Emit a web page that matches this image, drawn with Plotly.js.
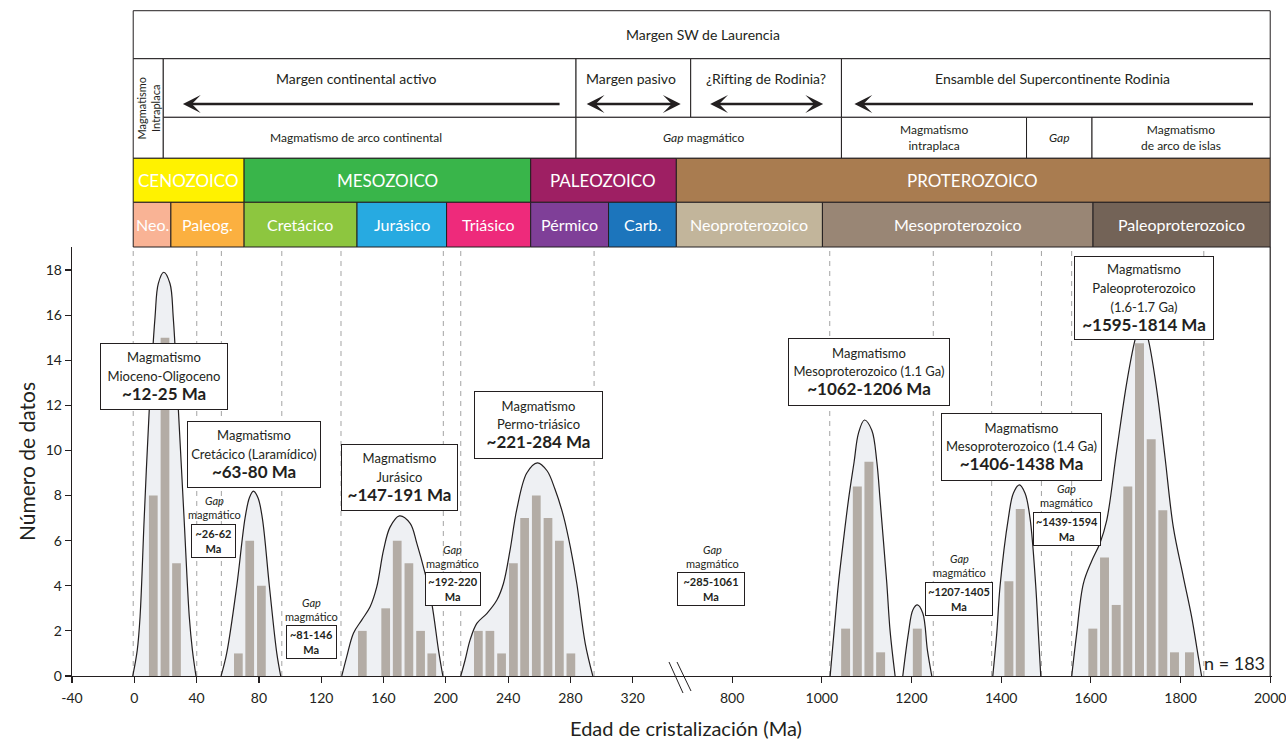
<!DOCTYPE html>
<html>
<head>
<meta charset="utf-8">
<script src="https://cdn.plot.ly/plotly-3.0.1.min.js"></script>
<style>html,body{margin:0;padding:0;background:#fff}#chart{width:1286px;height:740px}</style>
</head>
<body>
<div id="chart"></div>
<script>
// ---------------- DATA ----------------
// Histogram bins, left (broken) segment: age (Ma) and count
const leftBinAge   = [12.2, 19.7, 27.1, 66.8, 74.1, 81.6, 146.4, 161.4, 168.8, 176.3, 183.8, 191.0, 220.9, 228.3, 235.8, 243.4, 250.6, 258.1, 265.6, 272.9, 280.3];
const leftBinCount = [8, 15, 5, 1, 6, 4, 2, 3, 6, 5, 2, 1, 2, 2, 1, 5, 7, 8, 7, 6, 1];
// Histogram bins, right segment
const rightBinAge   = [1053.1, 1079.2, 1105.1, 1131.2, 1213, 1417.2, 1442.6, 1604.4, 1630.5, 1656.6, 1682.4, 1708.5, 1734.6, 1760.5, 1786.5, 1820];
const rightBinCount = [2.1, 8.4, 9.5, 1.05, 2.1, 4.2, 7.4, 2.1, 5.25, 3.15, 8.4, 14.75, 10.5, 7.35, 1.05, 1.05];

// Probability-density envelopes
const kdeMioX = [-1, 1.9, 3.7, 6.4, 9.6, 13.3, 15.4, 18.9, 22.9, 25, 28.3, 31.9, 35.3, 37.3, 39.6];
const kdeMioY = [0, 1.15, 2.63, 7.06, 11.8, 15.9, 17.4, 17.9, 17.4, 15.9, 11.8, 7.06, 2.63, 1.15, 0];
const kdeCreX = [55.7, 59.3, 65.8, 71.1, 73.9, 76.4, 79.4, 82.2, 86.7, 91.5, 94.0];
const kdeCreY = [0, 1, 4, 7, 7.9, 8.2, 7.9, 7, 4, 1, 0];
const kdeJurX = [133.2, 136.4, 140.7, 146, 151.4, 155.7, 160, 164.2, 170.2, 177.1, 181.4, 186.7, 191, 195.3, 198.1];
const kdeJurY = [0, 0.86, 1.9, 2.48, 3.07, 3.96, 5.58, 6.6, 7.1, 6.77, 5.88, 4.55, 3.22, 1.15, 0];
const kdePTrX = [209.6, 212.4, 215.6, 219.9, 226.3, 232.8, 237, 241.3, 245.6, 252, 258.8, 265, 270, 275.5, 280, 284.1, 289.5, 294.4];
const kdePTrY = [0, 0.71, 1.6, 2.33, 2.77, 3.37, 4.1, 5.6, 7.4, 9.0, 9.45, 9.1, 8.3, 7.1, 5.7, 4.1, 1.45, 0];
const kde11X = [1018.6, 1027.5, 1037.1, 1048.2, 1059.4, 1072.1, 1081.7, 1095.1, 1111.5, 1122.7, 1130, 1137.4, 1145, 1152.3, 1163.5];
const kde11Y = [0, 2.0, 4.1, 6.0, 7.8, 9.5, 10.76, 11.35, 10.9, 9.5, 7.8, 6.0, 4.1, 2.0, 0];
const kde12X = [1180.6, 1193.2, 1203, 1213.2, 1225.3, 1235.5, 1245.3];
const kde12Y = [0, 1.9, 2.93, 3.15, 2.78, 1.15, 0];
const kde14X = [1381.3, 1390.2, 1397.6, 1416.1, 1427.2, 1440.6, 1453.3, 1464.4, 1477.1, 1483, 1488.3];
const kde14Y = [0, 1.9, 4.0, 7.0, 8.1, 8.47, 8.1, 7.0, 4.0, 1.9, 0];
const kdePalX = [1557.4, 1568.5, 1583.3, 1601.9, 1620.5, 1635.4, 1657.7, 1680, 1698.5, 1712, 1727, 1746.9, 1765.4, 1783.9, 1806.2, 1825, 1839.6, 1847];
const kdePalY = [0, 1.9, 4.1, 5.1, 5.9, 6.9, 10.0, 13.0, 14.9, 15.8, 15.0, 12.7, 9.7, 6.6, 4.4, 2.6, 0.86, 0];

// Axis ticks
const leftTicks  = [-40, 0, 40, 80, 120, 160, 200, 240, 280, 320];
const rightTicks = [800, 1000, 1200, 1400, 1600, 1800, 2000];
const yTicks     = [0, 2, 4, 6, 8, 10, 12, 14, 16, 18];

// Dashed boundaries of magmatic pulses (Ma)
const gapLines = [-0.7, 40.1, 55.9, 94.7, 132.7, 198.4, 209.6, 295.2, 1017.7, 1248.6, 1378.8, 1489.8, 1557.2, 1851.9];

// Magmatic pulse labels
const peakNames  = ['Mioceno-Oligoceno', 'Cretácico (Laramídico)', 'Jurásico', 'Permo-triásico', 'Mesoproterozoico (1.1 Ga)', 'Mesoproterozoico (1.4 Ga)', 'Paleoproterozoico<br>(1.6-1.7 Ga)'];
const peakRanges = ['~12-25 Ma', '~63-80 Ma', '~147-191 Ma', '~221-284 Ma', '~1062-1206 Ma', '~1406-1438 Ma', '~1595-1814 Ma'];
const peakLabelAge   = [19.2, 77.1, 170.1, 259.4, 1104.8, 1444.4, 1719.6];
const peakLabelCount = [13.28, 9.81, 8.78, 11.13, 13.48, 10.16, 16.77];

// Magmatic gap labels
const gapRanges = ['~26-62', '~81-146', '~192-220', '~285-1061', '~1207-1405', '~1439-1594'];
const gapLabelAge   = [51.1, 114.0, 204.4, 753.3, 1306.9, 1546.9];
const gapLabelCount = [6.0, 1.49, 3.84, 3.84, 3.40, 6.51];
const gapTitleAge   = [51.2, 113.5, 204.2, 755.7, 1306.1, 1545.5];
const gapTitleCount = [7.49, 2.95, 5.31, 5.31, 4.89, 8.01];

// Geologic time scale (header)
const eraNames  = ['CENOZOICO', 'MESOZOICO', 'PALEOZOICO', 'PROTEROZOICO'];
const eraFrom   = [-0.7, 70.5, 254.5, 348];
const eraTo     = [70.5, 254.5, 348, 2000];
const eraColors = ['#fff200', '#39b54a', '#9e1f63', '#a97c50'];
const eraLabelAt = [35, 162.5, 301.2, 1337];

const periodNames  = ['Neo.', 'Paleog.', 'Cretácico', 'Jurásico', 'Triásico', 'Pérmico', 'Carb.', 'Neoproterozoico', 'Mesoproterozoico', 'Paleoproterozoico'];
const periodFrom   = [-0.7, 23.5, 70.5, 143, 200.5, 254.5, 304.5, 348, 1001.4, 1604.9];
const periodTo     = [23.5, 70.5, 143, 200.5, 254.5, 304.5, 348, 1001.4, 1604.9, 2000];
const periodColors = ['#f9b395', '#fbb040', '#8dc63f', '#27aae1', '#ee2a7b', '#7f3f98', '#1c75bc', '#c2b59b', '#998675', '#736357'];
const periodLabelAt = [11.4, 47, 106.7, 171.7, 227.5, 279.5, 326.2, 838, 1303, 1803];

const settingNames = ['Margen continental activo', 'Margen pasivo', '¿Rifting de Rodinia?', 'Ensamble del Supercontinente Rodinia'];
const settingFrom  = [18.6, 283.6, 707.6, 1043.8];
const settingTo    = [283.6, 707.6, 1043.8, 2000];
const settingLabelAt = [142.5, 318.7, 876, 1515];
const arrowHeadAt = [31.2, 350.8, 1003, 1072.8];
const arrowTailAt = [274, 289.5, 747.7, 1965];
const arrowDouble = [false, true, true, false];

const magNames = ['Magmatismo de arco continental', '<i>Gap</i> magmático', 'Magmatismo<br>intraplaca', '<i>Gap</i>', 'Magmatismo<br>de arco de islas'];
const magFrom  = [18.6, 283.6, 1043.8, 1456.6, 1602.6];
const magTo    = [283.6, 1043.8, 1456.6, 1602.6, 2000];
const magLabelAt = [142.5, 735.5, 1250, 1529, 1801];

// ---------------- STYLE / LAYOUT ----------------
const FONT = 'Lato, "Open Sans", sans-serif';
const INK = '#231f20';
const LEFT_END = 351, RIGHT_START = 686, RIGHT_END = 2004;
const SPLIT = 609 / 1200;
// header rows (paper y)
const R_TOP = 1.5508, R1 = 1.4389, R2 = 1.3023, R3 = 1.2068, R4 = 1.1042, R5 = 1.0;

function axisOf(a) { return a <= LEFT_END ? 'x' : 'x2'; }

function rects(a0, a1, y0, y1, fill) {
  const base = {type: 'rect', yref: 'paper', y0: y0, y1: y1, fillcolor: fill,
                line: {color: INK, width: 1}, layer: 'above'};
  if (a1 <= LEFT_END) return [Object.assign({xref: 'x', x0: a0, x1: a1}, base)];
  if (a0 >= RIGHT_START) return [Object.assign({xref: 'x2', x0: a0, x1: a1}, base)];
  return [Object.assign({xref: 'x', x0: a0, x1: LEFT_END + 3000}, base),
          Object.assign({xref: 'x2', x0: RIGHT_START - 3000, x1: a1}, base)];
}

const traces = [];
function kde(x, y, ax) {
  traces.push({type: 'scatter', mode: 'lines', x: x, y: y, xaxis: ax, yaxis: 'y',
    line: {color: INK, width: 1.2, shape: 'spline', smoothing: 1},
    fill: 'tozeroy', fillcolor: 'rgba(142,155,175,0.15)', hoverinfo: 'skip'});
}
traces.push({type: 'bar', x: leftBinAge, y: leftBinCount, xaxis: 'x', yaxis: 'y', width: 5.6,
  marker: {color: '#bab0a4', line: {width: 0}}, hoverinfo: 'skip'});
traces.push({type: 'bar', x: rightBinAge, y: rightBinCount, xaxis: 'x2', yaxis: 'y', width: 20,
  marker: {color: '#bab0a4', line: {width: 0}}, hoverinfo: 'skip'});
kde(kdeMioX, kdeMioY, 'x');
kde(kdeCreX, kdeCreY, 'x');
kde(kdeJurX, kdeJurY, 'x');
kde(kdePTrX, kdePTrY, 'x');
kde(kde11X, kde11Y, 'x2');
kde(kde12X, kde12Y, 'x2');
kde(kde14X, kde14Y, 'x2');
kde(kdePalX, kdePalY, 'x2');

let shapes = [];
// dashed boundaries
gapLines.forEach(a => shapes.push({type: 'line', xref: axisOf(a), yref: 'paper', x0: a, x1: a, y0: 0, y1: 1,
  line: {color: '#a3a3a3', width: 1, dash: '5px,5px'}, layer: 'below'}));
// right frame line
shapes.push({type: 'line', xref: 'x2', yref: 'paper', x0: 2000, x1: 2000, y0: 0, y1: 1, line: {color: INK, width: 1.2}});
// header boxes
shapes = shapes.concat(rects(-0.7, 2000, R1, R_TOP, '#ffffff'));
shapes = shapes.concat(rects(-0.7, 18.6, R3, R1, '#ffffff'));
for (let i = 0; i < settingNames.length; i++) shapes = shapes.concat(rects(settingFrom[i], settingTo[i], R2, R1, '#ffffff'));
for (let i = 0; i < magNames.length; i++) shapes = shapes.concat(rects(magFrom[i], magTo[i], R3, R2, '#ffffff'));
for (let i = 0; i < eraNames.length; i++) shapes = shapes.concat(rects(eraFrom[i], eraTo[i], R4, R3, eraColors[i]));
for (let i = 0; i < periodNames.length; i++) shapes = shapes.concat(rects(periodFrom[i], periodTo[i], R5, R4, periodColors[i]));
// axis break marks
shapes.push({type: 'line', xref: 'paper', yref: 'paper', x0: (669 - 72) / 1200, x1: (683 - 72) / 1200, y0: 14 / 429, y1: -17 / 429, line: {color: INK, width: 1}});
shapes.push({type: 'line', xref: 'paper', yref: 'paper', x0: (677 - 72) / 1200, x1: (691 - 72) / 1200, y0: 14 / 429, y1: -15 / 429, line: {color: INK, width: 1}});

const annotations = [];
const darkFont = (s) => ({family: FONT, size: s, color: INK});
function note(o) { return Object.assign({showarrow: false, xanchor: 'center', yanchor: 'middle'}, o); }
// header text
annotations.push(note({xref: 'x2', yref: 'paper', x: 735.5, y: (R1 + R_TOP) / 2, text: 'Margen SW de Laurencia', font: darkFont(14)}));
annotations.push(note({xref: 'x', yref: 'paper', x: 8.8, y: (R3 + R1) / 2, text: 'Magmatismo<br>Intraplaca', textangle: -90, font: darkFont(11)}));
for (let i = 0; i < settingNames.length; i++) {
  annotations.push(note({xref: axisOf(settingLabelAt[i]), yref: 'paper', x: settingLabelAt[i], y: 1.392, text: settingNames[i], font: darkFont(14)}));
  const ax = axisOf(arrowHeadAt[i]);
  annotations.push({xref: ax, yref: 'paper', x: arrowHeadAt[i], y: 1.3333, axref: ax, ax: arrowTailAt[i], ayref: 'pixel', ay: 0,
    text: '', showarrow: true, arrowhead: 3, arrowsize: 1.1, arrowwidth: 2.7, arrowcolor: INK,
    arrowside: arrowDouble[i] ? 'end+start' : 'end', startarrowhead: 3, startarrowsize: 1.1, standoff: 0, startstandoff: 0});
}
for (let i = 0; i < magNames.length; i++) {
  annotations.push(note({xref: axisOf(magLabelAt[i]), yref: 'paper', x: magLabelAt[i], y: (R3 + R2) / 2, text: magNames[i], font: darkFont(12)}));
}
for (let i = 0; i < eraNames.length; i++) {
  annotations.push(note({xref: axisOf(eraLabelAt[i]), yref: 'paper', x: eraLabelAt[i], y: (R4 + R3) / 2, text: eraNames[i], font: {family: FONT, size: 17, color: '#ffffff'}}));
}
for (let i = 0; i < periodNames.length; i++) {
  annotations.push(note({xref: axisOf(periodLabelAt[i]), yref: 'paper', x: periodLabelAt[i], y: (R5 + R4) / 2, text: periodNames[i], font: {family: FONT, size: 16, color: '#ffffff'}}));
}
// pulse labels
const peakBoxW = [122, 128, 111, 123, 156, 155, 134];
const peakBoxH = [61, 61, 61, 62, 62, 62, 78];
for (let i = 0; i < peakNames.length; i++) {
  annotations.push(note({xref: axisOf(peakLabelAge[i]), yref: 'y', x: peakLabelAge[i], y: peakLabelCount[i],
    text: '<span style="font-size:13px">Magmatismo<br>' + peakNames[i].split('<br>').join('</span><br><span style="font-size:13px">') +
          '</span><br><b><span style="font-size:17px">' + peakRanges[i] + '</span></b>',
    bgcolor: '#ffffff', bordercolor: INK, borderwidth: 1, borderpad: 2,
    width: peakBoxW[i], height: peakBoxH[i], font: darkFont(14.5), align: 'center', valign: 'middle'}));
}
// gap labels
const gapBoxW = [39, 45, 50, 62, 62, 62];
for (let i = 0; i < gapRanges.length; i++) {
  annotations.push(note({xref: axisOf(gapLabelAge[i]), yref: 'y', x: gapLabelAge[i], y: gapLabelCount[i],
    text: '<b>' + gapRanges[i] + '<br>Ma</b>', bgcolor: '#ffffff', bordercolor: INK,
    borderwidth: 1, borderpad: 2, width: gapBoxW[i], height: 28, font: darkFont(11)}));
  annotations.push(note({xref: axisOf(gapTitleAge[i]), yref: 'y', x: gapTitleAge[i], y: gapTitleCount[i],
    text: '<i>Gap</i><br>magmático', font: darkFont(11)}));
}
annotations.push(note({xref: 'x2', yref: 'y', x: 1993, y: 0.56, xanchor: 'right', text: 'n = 183', font: darkFont(18)}));
annotations.push(note({xref: 'paper', yref: 'paper', x: (686 - 72) / 1200, y: -52 / 429, text: 'Edad de cristalización (Ma)', font: darkFont(20)}));

const axisCommon = {showline: true, linecolor: INK, linewidth: 1.3, ticks: 'outside', ticklen: 6, tickwidth: 1.2,
  tickcolor: INK, showgrid: false, zeroline: false, tickfont: {family: FONT, size: 14, color: INK}, fixedrange: true};

const layout = {
  width: 1286, height: 740,
  margin: {l: 72, r: 14, t: 247, b: 64, pad: 0},
  paper_bgcolor: '#ffffff', plot_bgcolor: '#ffffff',
  showlegend: false, barmode: 'overlay',
  font: {family: FONT, color: INK},
  xaxis: Object.assign({}, axisCommon, {domain: [0, SPLIT], range: [-40, LEFT_END], tickmode: 'array', tickvals: leftTicks,
    ticktext: leftTicks.map(String), anchor: 'y', ticklabelstandoff: 3, ticklabeloverflow: 'allow'}),
  xaxis2: Object.assign({}, axisCommon, {domain: [SPLIT, 1], range: [RIGHT_START, RIGHT_END], tickmode: 'array', tickvals: rightTicks,
    ticktext: rightTicks.map(String), anchor: 'y', ticklabelstandoff: 3, ticklabeloverflow: 'allow'}),
  yaxis: Object.assign({}, axisCommon, {range: [0, 19.02], tickmode: 'array', tickvals: yTicks,
    title: {text: 'Número de datos', font: {family: FONT, size: 21, color: INK}, standoff: 4}}),
  shapes: shapes,
  annotations: annotations
};

Plotly.newPlot('chart', traces, layout, {displayModeBar: false, staticPlot: true});
</script>
</body>
</html>
